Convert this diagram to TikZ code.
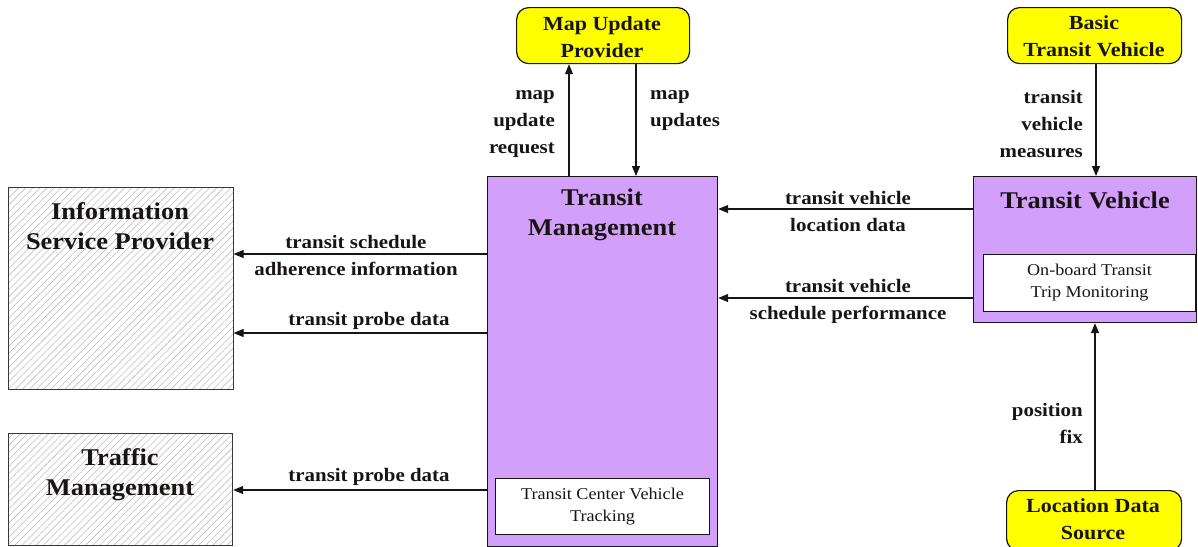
\documentclass[tikz,border=0pt]{standalone}
\usepackage{fontspec}
\setmainfont[FakeStretch=1.1]{Liberation Serif}
\usetikzlibrary{arrows.meta,patterns.meta,calc}
\definecolor{tmpurple}{RGB}{210,160,250}
\definecolor{tmyellow}{RGB}{255,255,0}
\definecolor{ink}{RGB}{25,20,20}
\begin{document}
\begin{tikzpicture}[x=1pt,y=-1pt,
 ext/.style={draw=ink!85, line width=1.2pt, anchor=north west, inner sep=0pt,
   pattern={Lines[angle=45,distance=5pt,line width=0.6pt]}, pattern color=black!25},
 subsys/.style={draw=ink, line width=1.2pt, fill=tmpurple, anchor=north west, inner sep=0pt},
 procbox/.style={draw=ink, line width=1pt, fill=white, anchor=north west, inner sep=0pt},
 term/.style={draw=ink, line width=1.2pt, fill=tmyellow, rounded corners=12pt, anchor=north west, inner sep=0pt},
 title/.style={font=\fontsize{24}{30}\selectfont\bfseries, align=center, text=ink, inner sep=0pt},
 ytitle/.style={font=\fontsize{20}{27}\selectfont\bfseries, align=center, text=ink, inner sep=0pt},
 flow/.style={font=\fontsize{19}{27}\selectfont\bfseries, text=ink, inner sep=0pt},
 small/.style={font=\fontsize{16.5}{22}\selectfont, align=center, text=ink, inner sep=0pt},
 arr/.style={draw=ink, line width=1.1pt, -{Triangle[length=10pt,width=8pt]}}]
\useasboundingbox (0,0) rectangle (1198,546);

% boxes
\node[ext, minimum width=225pt, minimum height=202pt] (isp) at (8,187) {};
\node[ext, minimum width=224pt, minimum height=112pt] (trm) at (8,433) {};
\node[subsys, minimum width=230pt, minimum height=370pt] (tm) at (487,176) {};
\node[procbox, minimum width=214pt, minimum height=56pt] (tcvt) at (495,478) {};
\node[subsys, minimum width=223pt, minimum height=146pt] (tv) at (973,176) {};
\node[procbox, minimum width=212pt, minimum height=57pt] (obtm) at (983,254) {};
\node[term, minimum width=173pt, minimum height=56pt] (mup) at (516,7) {};
\node[term, minimum width=174pt, minimum height=56pt] (btv) at (1007,7) {};
\node[term, minimum width=175pt, minimum height=60pt] (lds) at (1006,490) {};

% titles
\node[title] (ispt) at (120,226) {Information\\Service Provider};
\node[title] (trmt) at (120,475) {Traffic\\Management};
\node[title] (tmt) at (602,215) {Transit\\Management};
\node[title] (tvt) at (1085,200) {Transit Vehicle};
\node[ytitle] (mupt) at (602,37) {Map Update\\Provider};
\node[ytitle] (btvt) at (1094,36) {Basic\\Transit Vehicle};
\node[ytitle] (ldst) at (1093,519) {Location Data\\Source};
\node[small] (tcvtt) at (tcvt.center) {Transit Center Vehicle\\Tracking};
\node[small] (obtmt) at (obtm.center) {On-board Transit\\Trip Monitoring};

% connector positions
\coordinate (xreq) at (569,0);
\coordinate (xupd) at (636,0);
\coordinate (xmeas) at (1096,0);
\coordinate (xfix) at (1095,0);
\coordinate (ysched) at (0,254);
\coordinate (yprobe) at (0,333);
\coordinate (yprobe2) at (0,490);
\coordinate (yloc) at (0,209);
\coordinate (yperf) at (0,298);

% connectors
\draw[arr] (xreq |- tm.north) -- (xreq |- mup.south);
\draw[arr] (xupd |- mup.south) -- (xupd |- tm.north);
\draw[arr] (xmeas |- btv.south) -- (xmeas |- tv.north);
\draw[arr] (xfix |- lds.north) -- (xfix |- tv.south);
\draw[arr] (tv.west |- yloc) -- (tm.east |- yloc);
\draw[arr] (tv.west |- yperf) -- (tm.east |- yperf);
\draw[arr] (tm.west |- ysched) -- (isp.east |- ysched);
\draw[arr] (tm.west |- yprobe) -- (isp.east |- yprobe);
\draw[arr] (tm.west |- yprobe2) -- (trm.east |- yprobe2);

% flow labels
\node[flow, align=right, anchor=east] (lreq) at (555,124) {map\\update\\request};
\node[flow, align=left, anchor=west] (lupd) at (650,110.5) {map\\updates};
\node[flow, align=right, anchor=east] (lmeas) at (1083,124) {transit\\vehicle\\measures};
\node[flow, align=right, anchor=east] (lfix) at (1083,423) {position\\fix};
\node[flow, align=center] (lsched) at (356,255.5) {transit schedule\\adherence information};
\node[flow, align=center] (lprobe) at (369,321) {transit probe data};
\node[flow, align=center] (lprobe2) at (369,477) {transit probe data};
\node[flow, align=center] (lloc) at (848,211) {transit vehicle\\location data};
\node[flow, align=center] (lperf) at (848,301) {transit vehicle\\schedule performance};
\end{tikzpicture}
\end{document}
